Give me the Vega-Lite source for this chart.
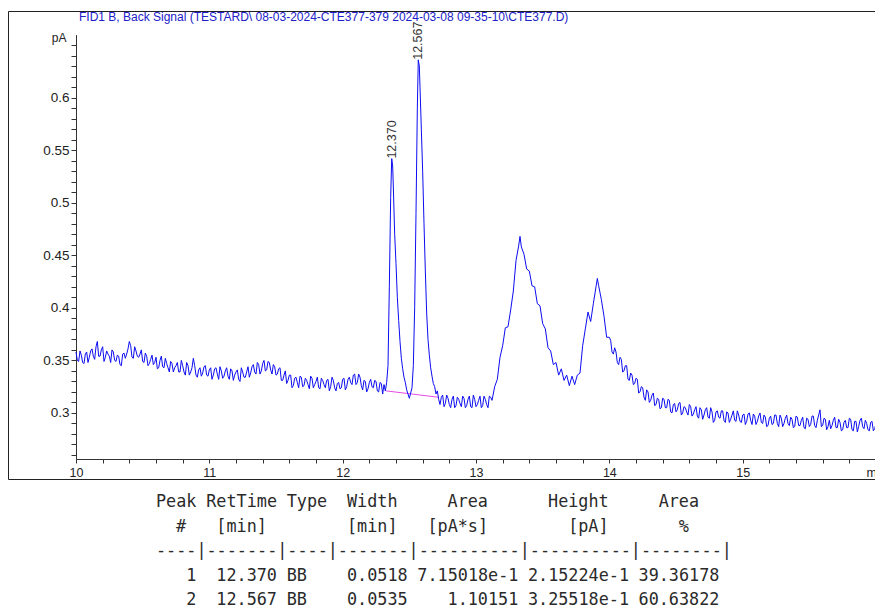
{
  "$schema": "https://vega.github.io/schema/vega-lite/v6.json",
  "padding": {"left": 7, "top": 10, "right": 0, "bottom": 0},
  "background": "white",
  "spacing": 10,
  "config": {
    "view": {"stroke": null},
    "axis": {"grid": false, "labelFont": "Liberation Sans", "labelColor": "#222222", "tickColor": "#333333", "domainColor": "#333333", "titleFont": "Liberation Sans", "labelFlush": false, "labelOverlap": false, "labelBound": false}
  },
  "vconcat": [
    {
      "width": 880,
      "height": 468,
      "view": {"stroke": "#222222", "strokeWidth": 1},
      "layer": [
        {
          "data": {"values": [{"rt": 12.325, "pA": 0.321, "rt2": 12.715, "pA2": 0.315}]},
          "mark": {"type": "rule", "color": "#e64ce6", "strokeWidth": 1},
          "encoding": {
            "x": {"field": "rt", "type": "quantitative"},
            "y": {"field": "pA", "type": "quantitative"},
            "x2": {"field": "rt2"},
            "y2": {"field": "pA2"}
          }
        },
        {
          "data": {"values": [
{"rt":10.00,"pA":0.358},{"rt":10.02,"pA":0.349},{"rt":10.04,"pA":0.355},{"rt":10.06,"pA":0.347},{"rt":10.08,"pA":0.358},{"rt":10.10,"pA":0.353},{"rt":10.12,"pA":0.361},{"rt":10.14,"pA":0.351},{"rt":10.16,"pA":0.368},{"rt":10.18,"pA":0.354},
{"rt":10.20,"pA":0.363},{"rt":10.22,"pA":0.353},{"rt":10.24,"pA":0.356},{"rt":10.26,"pA":0.348},{"rt":10.28,"pA":0.358},{"rt":10.30,"pA":0.349},{"rt":10.32,"pA":0.354},{"rt":10.34,"pA":0.345},{"rt":10.36,"pA":0.357},{"rt":10.38,"pA":0.356},
{"rt":10.40,"pA":0.368},{"rt":10.42,"pA":0.353},{"rt":10.44,"pA":0.363},{"rt":10.46,"pA":0.354},{"rt":10.48,"pA":0.356},{"rt":10.50,"pA":0.349},{"rt":10.52,"pA":0.357},{"rt":10.54,"pA":0.345},{"rt":10.56,"pA":0.351},{"rt":10.58,"pA":0.346},
{"rt":10.60,"pA":0.353},{"rt":10.62,"pA":0.343},{"rt":10.64,"pA":0.354},{"rt":10.66,"pA":0.343},{"rt":10.68,"pA":0.347},{"rt":10.70,"pA":0.339},{"rt":10.72,"pA":0.347},{"rt":10.74,"pA":0.343},{"rt":10.76,"pA":0.348},{"rt":10.78,"pA":0.339},
{"rt":10.80,"pA":0.345},{"rt":10.82,"pA":0.336},{"rt":10.84,"pA":0.345},{"rt":10.86,"pA":0.339},{"rt":10.88,"pA":0.352},{"rt":10.90,"pA":0.336},{"rt":10.92,"pA":0.341},{"rt":10.94,"pA":0.335},{"rt":10.96,"pA":0.344},{"rt":10.98,"pA":0.336},
{"rt":11.00,"pA":0.341},{"rt":11.02,"pA":0.332},{"rt":11.04,"pA":0.342},{"rt":11.06,"pA":0.337},{"rt":11.08,"pA":0.344},{"rt":11.10,"pA":0.333},{"rt":11.12,"pA":0.340},{"rt":11.14,"pA":0.335},{"rt":11.16,"pA":0.342},{"rt":11.18,"pA":0.331},
{"rt":11.20,"pA":0.339},{"rt":11.22,"pA":0.332},{"rt":11.24,"pA":0.343},{"rt":11.26,"pA":0.334},{"rt":11.28,"pA":0.339},{"rt":11.30,"pA":0.334},{"rt":11.32,"pA":0.344},{"rt":11.34,"pA":0.339},{"rt":11.36,"pA":0.348},{"rt":11.38,"pA":0.337},
{"rt":11.40,"pA":0.347},{"rt":11.42,"pA":0.340},{"rt":11.44,"pA":0.349},{"rt":11.46,"pA":0.341},{"rt":11.48,"pA":0.346},{"rt":11.50,"pA":0.336},{"rt":11.52,"pA":0.342},{"rt":11.54,"pA":0.331},{"rt":11.56,"pA":0.336},{"rt":11.58,"pA":0.328},
{"rt":11.60,"pA":0.336},{"rt":11.62,"pA":0.324},{"rt":11.64,"pA":0.333},{"rt":11.66,"pA":0.329},{"rt":11.68,"pA":0.335},{"rt":11.70,"pA":0.325},{"rt":11.72,"pA":0.333},{"rt":11.74,"pA":0.327},{"rt":11.76,"pA":0.335},{"rt":11.78,"pA":0.324},
{"rt":11.80,"pA":0.330},{"rt":11.82,"pA":0.324},{"rt":11.84,"pA":0.333},{"rt":11.86,"pA":0.327},{"rt":11.88,"pA":0.331},{"rt":11.90,"pA":0.321},{"rt":11.92,"pA":0.334},{"rt":11.94,"pA":0.324},{"rt":11.96,"pA":0.328},{"rt":11.98,"pA":0.323},
{"rt":12.00,"pA":0.332},{"rt":12.02,"pA":0.322},{"rt":12.04,"pA":0.332},{"rt":12.06,"pA":0.329},{"rt":12.08,"pA":0.336},{"rt":12.10,"pA":0.327},{"rt":12.12,"pA":0.337},{"rt":12.14,"pA":0.326},{"rt":12.16,"pA":0.331},{"rt":12.18,"pA":0.320},
{"rt":12.20,"pA":0.329},{"rt":12.22,"pA":0.325},{"rt":12.24,"pA":0.331},{"rt":12.26,"pA":0.321},{"rt":12.28,"pA":0.329},{"rt":12.30,"pA":0.318},{"rt":12.31,"pA":0.327},{"rt":12.32,"pA":0.321},{"rt":12.33,"pA":0.329},
{"rt":12.34,"pA":0.345},{"rt":12.35,"pA":0.420},{"rt":12.36,"pA":0.505},{"rt":12.368,"pA":0.542},{"rt":12.375,"pA":0.535},{"rt":12.38,"pA":0.515},{"rt":12.39,"pA":0.470},{"rt":12.40,"pA":0.442},{"rt":12.41,"pA":0.410},{"rt":12.42,"pA":0.388},
{"rt":12.43,"pA":0.368},{"rt":12.44,"pA":0.352},{"rt":12.45,"pA":0.342},{"rt":12.46,"pA":0.334},{"rt":12.47,"pA":0.329},{"rt":12.48,"pA":0.322},{"rt":12.49,"pA":0.318},{"rt":12.50,"pA":0.314},{"rt":12.51,"pA":0.319},{"rt":12.52,"pA":0.324},
{"rt":12.53,"pA":0.345},{"rt":12.54,"pA":0.400},{"rt":12.55,"pA":0.490},{"rt":12.56,"pA":0.590},{"rt":12.567,"pA":0.636},{"rt":12.575,"pA":0.630},{"rt":12.58,"pA":0.610},{"rt":12.59,"pA":0.570},{"rt":12.60,"pA":0.530},{"rt":12.61,"pA":0.480},
{"rt":12.62,"pA":0.435},{"rt":12.63,"pA":0.395},{"rt":12.64,"pA":0.370},{"rt":12.65,"pA":0.355},{"rt":12.66,"pA":0.343},{"rt":12.67,"pA":0.335},{"rt":12.68,"pA":0.328},{"rt":12.69,"pA":0.325},{"rt":12.70,"pA":0.318},{"rt":12.71,"pA":0.321},
{"rt":12.72,"pA":0.313},{"rt":12.74,"pA":0.315},{"rt":12.76,"pA":0.306},{"rt":12.78,"pA":0.317},{"rt":12.80,"pA":0.308},{"rt":12.82,"pA":0.313},{"rt":12.84,"pA":0.305},{"rt":12.86,"pA":0.315},{"rt":12.88,"pA":0.309},{"rt":12.90,"pA":0.316},
{"rt":12.92,"pA":0.305},{"rt":12.94,"pA":0.313},{"rt":12.96,"pA":0.306},{"rt":12.98,"pA":0.317},{"rt":13.00,"pA":0.306},{"rt":13.02,"pA":0.312},{"rt":13.04,"pA":0.305},{"rt":13.06,"pA":0.316},{"rt":13.08,"pA":0.308},{"rt":13.10,"pA":0.316},
{"rt":13.12,"pA":0.312},{"rt":13.14,"pA":0.325},{"rt":13.16,"pA":0.332},{"rt":13.18,"pA":0.353},{"rt":13.20,"pA":0.364},{"rt":13.22,"pA":0.381},{"rt":13.24,"pA":0.382},{"rt":13.26,"pA":0.398},{"rt":13.28,"pA":0.416},{"rt":13.30,"pA":0.445},
{"rt":13.32,"pA":0.459},{"rt":13.33,"pA":0.468},{"rt":13.34,"pA":0.458},{"rt":13.36,"pA":0.451},{"rt":13.38,"pA":0.437},{"rt":13.40,"pA":0.435},{"rt":13.42,"pA":0.421},{"rt":13.44,"pA":0.420},{"rt":13.46,"pA":0.404},{"rt":13.48,"pA":0.402},
{"rt":13.50,"pA":0.385},{"rt":13.52,"pA":0.380},{"rt":13.54,"pA":0.362},{"rt":13.56,"pA":0.359},{"rt":13.58,"pA":0.346},{"rt":13.60,"pA":0.348},{"rt":13.62,"pA":0.336},{"rt":13.64,"pA":0.342},{"rt":13.66,"pA":0.331},{"rt":13.68,"pA":0.336},
{"rt":13.70,"pA":0.326},{"rt":13.72,"pA":0.335},{"rt":13.74,"pA":0.327},{"rt":13.76,"pA":0.336},{"rt":13.78,"pA":0.338},{"rt":13.80,"pA":0.364},{"rt":13.82,"pA":0.380},{"rt":13.84,"pA":0.396},{"rt":13.86,"pA":0.387},{"rt":13.88,"pA":0.404},
{"rt":13.90,"pA":0.420},{"rt":13.91,"pA":0.428},{"rt":13.92,"pA":0.421},{"rt":13.94,"pA":0.408},{"rt":13.96,"pA":0.392},{"rt":13.98,"pA":0.372},{"rt":14.00,"pA":0.372},{"rt":14.02,"pA":0.358},{"rt":14.04,"pA":0.362},{"rt":14.06,"pA":0.348},
{"rt":14.08,"pA":0.353},{"rt":14.10,"pA":0.339},{"rt":14.12,"pA":0.345},{"rt":14.14,"pA":0.332},{"rt":14.16,"pA":0.338},{"rt":14.18,"pA":0.327},{"rt":14.20,"pA":0.333},{"rt":14.22,"pA":0.319},{"rt":14.24,"pA":0.325},{"rt":14.26,"pA":0.315},
{"rt":14.28,"pA":0.322},{"rt":14.30,"pA":0.310},{"rt":14.32,"pA":0.317},{"rt":14.34,"pA":0.307},{"rt":14.36,"pA":0.314},{"rt":14.38,"pA":0.304},{"rt":14.40,"pA":0.314},{"rt":14.42,"pA":0.305},{"rt":14.44,"pA":0.313},{"rt":14.46,"pA":0.301},
{"rt":14.48,"pA":0.308},{"rt":14.50,"pA":0.301},{"rt":14.52,"pA":0.309},{"rt":14.54,"pA":0.298},{"rt":14.56,"pA":0.306},{"rt":14.58,"pA":0.301},{"rt":14.60,"pA":0.308},{"rt":14.62,"pA":0.297},{"rt":14.64,"pA":0.303},{"rt":14.66,"pA":0.297},
{"rt":14.68,"pA":0.305},{"rt":14.70,"pA":0.294},{"rt":14.72,"pA":0.303},{"rt":14.74,"pA":0.296},{"rt":14.76,"pA":0.305},{"rt":14.78,"pA":0.291},{"rt":14.80,"pA":0.301},{"rt":14.82,"pA":0.296},{"rt":14.84,"pA":0.302},{"rt":14.86,"pA":0.293},
{"rt":14.88,"pA":0.301},{"rt":14.90,"pA":0.291},{"rt":14.92,"pA":0.298},{"rt":14.94,"pA":0.293},{"rt":14.96,"pA":0.302},{"rt":14.98,"pA":0.292},{"rt":15.00,"pA":0.298},{"rt":15.02,"pA":0.289},{"rt":15.04,"pA":0.299},{"rt":15.06,"pA":0.293},
{"rt":15.08,"pA":0.299},{"rt":15.10,"pA":0.289},{"rt":15.12,"pA":0.297},{"rt":15.14,"pA":0.291},{"rt":15.16,"pA":0.298},{"rt":15.18,"pA":0.287},{"rt":15.20,"pA":0.295},{"rt":15.22,"pA":0.289},{"rt":15.24,"pA":0.298},{"rt":15.26,"pA":0.290},
{"rt":15.28,"pA":0.298},{"rt":15.30,"pA":0.287},{"rt":15.32,"pA":0.295},{"rt":15.34,"pA":0.290},{"rt":15.36,"pA":0.296},{"rt":15.38,"pA":0.286},{"rt":15.40,"pA":0.297},{"rt":15.42,"pA":0.288},{"rt":15.44,"pA":0.293},{"rt":15.46,"pA":0.286},
{"rt":15.48,"pA":0.295},{"rt":15.50,"pA":0.287},{"rt":15.52,"pA":0.297},{"rt":15.54,"pA":0.288},{"rt":15.56,"pA":0.293},{"rt":15.58,"pA":0.303},{"rt":15.60,"pA":0.288},{"rt":15.62,"pA":0.294},{"rt":15.64,"pA":0.287},{"rt":15.66,"pA":0.285},
{"rt":15.68,"pA":0.293},{"rt":15.70,"pA":0.286},{"rt":15.72,"pA":0.294},{"rt":15.74,"pA":0.283},{"rt":15.76,"pA":0.291},{"rt":15.78,"pA":0.286},{"rt":15.80,"pA":0.295},{"rt":15.82,"pA":0.284},{"rt":15.84,"pA":0.292},{"rt":15.86,"pA":0.282},
{"rt":15.88,"pA":0.293},{"rt":15.90,"pA":0.287},{"rt":15.92,"pA":0.293},{"rt":15.94,"pA":0.284},{"rt":15.96,"pA":0.291},{"rt":15.98,"pA":0.283},{"rt":16.00,"pA":0.290},
{"rt":10.01,"pA":0.350},{"rt":10.03,"pA":0.359},{"rt":10.05,"pA":0.348},{"rt":10.07,"pA":0.356},{"rt":10.09,"pA":0.348},{"rt":10.11,"pA":0.359},{"rt":10.13,"pA":0.354},{"rt":10.15,"pA":0.363},{"rt":10.17,"pA":0.354},{"rt":10.19,"pA":0.360},
{"rt":10.21,"pA":0.349},{"rt":10.23,"pA":0.359},{"rt":10.25,"pA":0.354},{"rt":10.27,"pA":0.360},{"rt":10.29,"pA":0.350},{"rt":10.31,"pA":0.355},{"rt":10.33,"pA":0.346},{"rt":10.35,"pA":0.356},{"rt":10.37,"pA":0.352},{"rt":10.39,"pA":0.361},
{"rt":10.41,"pA":0.364},{"rt":10.43,"pA":0.352},{"rt":10.45,"pA":0.359},{"rt":10.47,"pA":0.353},{"rt":10.49,"pA":0.360},{"rt":10.51,"pA":0.348},{"rt":10.53,"pA":0.354},{"rt":10.55,"pA":0.347},{"rt":10.57,"pA":0.355},{"rt":10.59,"pA":0.348},
{"rt":10.61,"pA":0.342},{"rt":10.63,"pA":0.350},{"rt":10.65,"pA":0.344},{"rt":10.67,"pA":0.352},{"rt":10.69,"pA":0.343},{"rt":10.71,"pA":0.349},{"rt":10.73,"pA":0.339},{"rt":10.75,"pA":0.345},{"rt":10.77,"pA":0.339},{"rt":10.79,"pA":0.350},
{"rt":10.81,"pA":0.339},{"rt":10.83,"pA":0.348},{"rt":10.85,"pA":0.336},{"rt":10.87,"pA":0.343},{"rt":10.89,"pA":0.345},{"rt":10.91,"pA":0.334},{"rt":10.93,"pA":0.343},{"rt":10.95,"pA":0.338},{"rt":10.97,"pA":0.345},{"rt":10.99,"pA":0.335},
{"rt":11.01,"pA":0.343},{"rt":11.03,"pA":0.336},{"rt":11.05,"pA":0.343},{"rt":11.07,"pA":0.332},{"rt":11.09,"pA":0.340},{"rt":11.11,"pA":0.335},{"rt":11.13,"pA":0.343},{"rt":11.15,"pA":0.332},{"rt":11.17,"pA":0.340},{"rt":11.19,"pA":0.336},
{"rt":11.21,"pA":0.341},{"rt":11.23,"pA":0.330},{"rt":11.25,"pA":0.339},{"rt":11.27,"pA":0.334},{"rt":11.29,"pA":0.344},{"rt":11.31,"pA":0.338},{"rt":11.33,"pA":0.346},{"rt":11.35,"pA":0.337},{"rt":11.37,"pA":0.346},{"rt":11.39,"pA":0.340},
{"rt":11.41,"pA":0.350},{"rt":11.43,"pA":0.341},{"rt":11.45,"pA":0.348},{"rt":11.47,"pA":0.337},{"rt":11.49,"pA":0.344},{"rt":11.51,"pA":0.337},{"rt":11.53,"pA":0.343},{"rt":11.55,"pA":0.331},{"rt":11.57,"pA":0.340},{"rt":11.59,"pA":0.331},
{"rt":11.61,"pA":0.336},{"rt":11.63,"pA":0.326},{"rt":11.65,"pA":0.334},{"rt":11.67,"pA":0.324},{"rt":11.69,"pA":0.334},{"rt":11.71,"pA":0.326},{"rt":11.73,"pA":0.331},{"rt":11.75,"pA":0.323},{"rt":11.77,"pA":0.333},{"rt":11.79,"pA":0.327},
{"rt":11.81,"pA":0.334},{"rt":11.83,"pA":0.323},{"rt":11.85,"pA":0.331},{"rt":11.87,"pA":0.324},{"rt":11.89,"pA":0.332},{"rt":11.91,"pA":0.325},{"rt":11.93,"pA":0.331},{"rt":11.95,"pA":0.321},{"rt":11.97,"pA":0.329},{"rt":11.99,"pA":0.324},
{"rt":12.01,"pA":0.333},{"rt":12.03,"pA":0.325},{"rt":12.05,"pA":0.334},{"rt":12.07,"pA":0.327},{"rt":12.09,"pA":0.337},{"rt":12.11,"pA":0.329},{"rt":12.13,"pA":0.334},{"rt":12.15,"pA":0.322},{"rt":12.17,"pA":0.330},{"rt":12.19,"pA":0.323},
{"rt":12.21,"pA":0.332},{"rt":12.23,"pA":0.324},{"rt":12.25,"pA":0.330},{"rt":12.27,"pA":0.320},{"rt":12.29,"pA":0.328},
{"rt":12.73,"pA":0.308},{"rt":12.75,"pA":0.317},{"rt":12.77,"pA":0.309},{"rt":12.79,"pA":0.314},{"rt":12.81,"pA":0.305},{"rt":12.83,"pA":0.316},{"rt":12.85,"pA":0.307},{"rt":12.87,"pA":0.313},{"rt":12.89,"pA":0.306},{"rt":12.91,"pA":0.314},
{"rt":12.93,"pA":0.307},{"rt":12.95,"pA":0.316},{"rt":12.97,"pA":0.305},{"rt":12.99,"pA":0.313},{"rt":13.01,"pA":0.308},{"rt":13.03,"pA":0.316},{"rt":13.05,"pA":0.307},{"rt":13.07,"pA":0.313},{"rt":13.09,"pA":0.305},{"rt":13.11,"pA":0.315},
{"rt":14.01,"pA":0.369},{"rt":14.03,"pA":0.356},{"rt":14.05,"pA":0.358},{"rt":14.07,"pA":0.346},{"rt":14.09,"pA":0.351},{"rt":14.11,"pA":0.340},{"rt":14.13,"pA":0.345},{"rt":14.15,"pA":0.331},{"rt":14.17,"pA":0.336},{"rt":14.19,"pA":0.328},
{"rt":14.21,"pA":0.332},{"rt":14.23,"pA":0.320},{"rt":14.25,"pA":0.324},{"rt":14.27,"pA":0.312},{"rt":14.29,"pA":0.320},{"rt":14.31,"pA":0.312},{"rt":14.33,"pA":0.319},{"rt":14.35,"pA":0.308},{"rt":14.37,"pA":0.313},{"rt":14.39,"pA":0.305},
{"rt":14.41,"pA":0.313},{"rt":14.43,"pA":0.305},{"rt":14.45,"pA":0.312},{"rt":14.47,"pA":0.300},{"rt":14.49,"pA":0.309},{"rt":14.51,"pA":0.303},{"rt":14.53,"pA":0.310},{"rt":14.55,"pA":0.300},{"rt":14.57,"pA":0.305},{"rt":14.59,"pA":0.298},
{"rt":14.61,"pA":0.306},{"rt":14.63,"pA":0.299},{"rt":14.65,"pA":0.306},{"rt":14.67,"pA":0.295},{"rt":14.69,"pA":0.303},{"rt":14.71,"pA":0.298},{"rt":14.73,"pA":0.305},{"rt":14.75,"pA":0.295},{"rt":14.77,"pA":0.301},{"rt":14.79,"pA":0.293},
{"rt":14.81,"pA":0.302},{"rt":14.83,"pA":0.295},{"rt":14.85,"pA":0.302},{"rt":14.87,"pA":0.291},{"rt":14.89,"pA":0.300},{"rt":14.91,"pA":0.294},{"rt":14.93,"pA":0.302},{"rt":14.95,"pA":0.292},{"rt":14.97,"pA":0.298},{"rt":14.99,"pA":0.291},
{"rt":15.01,"pA":0.299},{"rt":15.03,"pA":0.292},{"rt":15.05,"pA":0.300},{"rt":15.07,"pA":0.289},{"rt":15.09,"pA":0.297},{"rt":15.11,"pA":0.292},{"rt":15.13,"pA":0.300},{"rt":15.15,"pA":0.290},{"rt":15.17,"pA":0.296},{"rt":15.19,"pA":0.288},
{"rt":15.21,"pA":0.297},{"rt":15.23,"pA":0.290},{"rt":15.25,"pA":0.298},{"rt":15.27,"pA":0.287},{"rt":15.29,"pA":0.295},{"rt":15.31,"pA":0.290},{"rt":15.33,"pA":0.298},{"rt":15.35,"pA":0.288},{"rt":15.37,"pA":0.294},{"rt":15.39,"pA":0.287},
{"rt":15.41,"pA":0.296},{"rt":15.43,"pA":0.288},{"rt":15.45,"pA":0.296},{"rt":15.47,"pA":0.285},{"rt":15.49,"pA":0.294},{"rt":15.51,"pA":0.289},{"rt":15.53,"pA":0.297},{"rt":15.55,"pA":0.286},{"rt":15.57,"pA":0.298},{"rt":15.59,"pA":0.287},
{"rt":15.61,"pA":0.295},{"rt":15.63,"pA":0.284},{"rt":15.65,"pA":0.293},{"rt":15.67,"pA":0.288},{"rt":15.69,"pA":0.296},{"rt":15.71,"pA":0.286},{"rt":15.73,"pA":0.291},{"rt":15.75,"pA":0.284},{"rt":15.77,"pA":0.293},{"rt":15.79,"pA":0.286},
{"rt":15.81,"pA":0.294},{"rt":15.83,"pA":0.283},{"rt":15.85,"pA":0.292},{"rt":15.87,"pA":0.287},{"rt":15.89,"pA":0.295},{"rt":15.91,"pA":0.285},{"rt":15.93,"pA":0.290},{"rt":15.95,"pA":0.283},{"rt":15.97,"pA":0.292},{"rt":15.99,"pA":0.285}
          ]},
          "mark": {"type": "line", "color": "#0c0cf2", "strokeWidth": 1},
          "encoding": {
            "x": {"field": "rt", "type": "quantitative",
              "scale": {"domain": [10, 16], "range": [68, 868], "nice": false, "zero": false},
              "axis": {"orient": "bottom", "offset": -20, "title": null, "labelOverlap": false, "labelFlush": false, "tickCount": 100,
                "values": [10,10.2,10.4,10.6,10.8,11,11.2,11.4,11.6,11.8,12,12.2,12.4,12.6,12.8,13,13.2,13.4,13.6,13.8,14,14.2,14.4,14.6,14.8,15,15.2,15.4,15.6,15.8,16],
                "labelExpr": "datum.value >= 15.99 ? 'min' : (abs(datum.value - round(datum.value)) < 0.001 ? format(datum.value, 'd') : '')",
                "tickSize": 4, "labelPadding": 3, "labelFontSize": 12.5}},
            "y": {"field": "pA", "type": "quantitative",
              "scale": {"domain": [0.256, 0.66], "range": [448.2, 23.6], "nice": false, "zero": false},
              "axis": {"orient": "left", "offset": -68, "labelOverlap": false, "labelFlush": false, "tickCount": 100,
                "values": [0.26,0.27,0.28,0.29,0.3,0.31,0.32,0.33,0.34,0.35,0.36,0.37,0.38,0.39,0.4,0.41,0.42,0.43,0.44,0.45,0.46,0.47,0.48,0.49,0.5,0.51,0.52,0.53,0.54,0.55,0.56,0.57,0.58,0.59,0.6,0.61,0.62,0.63,0.64,0.65],
                "labelExpr": "datum.value < 0.645 && abs(datum.value*20 - round(datum.value*20)) < 0.01 ? format(datum.value, '~g') : ''",
                "tickSize": 5, "labelPadding": 2, "labelFontSize": 13.5,
                "title": "pA", "titleAngle": 0, "titleX": -10, "titleY": 26, "titleAlign": "right", "titleBaseline": "middle", "titleFontSize": 12, "titleFontWeight": "normal", "titleColor": "#222222"}}
          }
        },
        {
          "data": {"values": [{"rt": 12.370, "pA": 0.542, "label": "12.370"}, {"rt": 12.567, "pA": 0.636, "label": "12.567"}]},
          "mark": {"type": "text", "angle": 270, "align": "left", "baseline": "middle", "fontSize": 12.5, "font": "Liberation Sans", "color": "#333333", "dx": 0},
          "encoding": {
            "x": {"field": "rt", "type": "quantitative"},
            "y": {"field": "pA", "type": "quantitative"},
            "text": {"field": "label"}
          }
        },
        {
          "data": {"values": [{"heading": "FID1 B, Back Signal (TESTARD\\ 08-03-2024-CTE377-379 2024-03-08 09-35-10\\CTE377.D)"}]},
          "mark": {"type": "text", "align": "left", "baseline": "alphabetic", "fontSize": 12, "font": "Liberation Sans", "color": "#2121c9", "dx": 3, "dy": -13.2},
          "encoding": {
            "x": {"datum": 10, "type": "quantitative"},
            "y": {"datum": 0.66, "type": "quantitative"},
            "text": {"field": "heading"}
          }
        }
      ]
    },
    {
      "width": 872,
      "height": {"step": 24.5},
      "view": {"stroke": null},
      "data": {"values": [
        {"row": 1, "col": 0, "cell": "Peak"}, {"row": 1, "col": 5, "cell": "RetTime"}, {"row": 1, "col": 13, "cell": "Type"}, {"row": 1, "col": 19, "cell": "Width"}, {"row": 1, "col": 29, "cell": "Area"}, {"row": 1, "col": 39, "cell": "Height"}, {"row": 1, "col": 50, "cell": "Area"},
        {"row": 2, "col": 2, "cell": "#"}, {"row": 2, "col": 6, "cell": "[min]"}, {"row": 2, "col": 19, "cell": "[min]"}, {"row": 2, "col": 27, "cell": "[pA*s]"}, {"row": 2, "col": 41, "cell": "[pA]"}, {"row": 2, "col": 52, "cell": "%"},
        {"row": 3, "col": 0, "cell": "----|-------|----|-------|----------|----------|--------|"},
        {"row": 4, "col": 3, "cell": "1"}, {"row": 4, "col": 6, "cell": "12.370"}, {"row": 4, "col": 13, "cell": "BB"}, {"row": 4, "col": 19, "cell": "0.0518"}, {"row": 4, "col": 26, "cell": "7.15018e-1"}, {"row": 4, "col": 37, "cell": "2.15224e-1"}, {"row": 4, "col": 48, "cell": "39.36178"},
        {"row": 5, "col": 3, "cell": "2"}, {"row": 5, "col": 6, "cell": "12.567"}, {"row": 5, "col": 13, "cell": "BB"}, {"row": 5, "col": 19, "cell": "0.0535"}, {"row": 5, "col": 29, "cell": "1.10151"}, {"row": 5, "col": 37, "cell": "3.25518e-1"}, {"row": 5, "col": 48, "cell": "60.63822"}
      ]},
      "mark": {"type": "text", "font": "DejaVu Sans Mono", "fontSize": 16.8, "color": "#2a2a2a", "baseline": "middle", "align": "left"},
      "encoding": {
        "x": {"field": "col", "type": "quantitative", "axis": null, "scale": {"domain": [0, 57], "range": [148, 721], "nice": false, "zero": false}},
        "y": {"field": "row", "type": "ordinal", "axis": null},
        "text": {"field": "cell", "type": "nominal"}
      }
    }
  ]
}
